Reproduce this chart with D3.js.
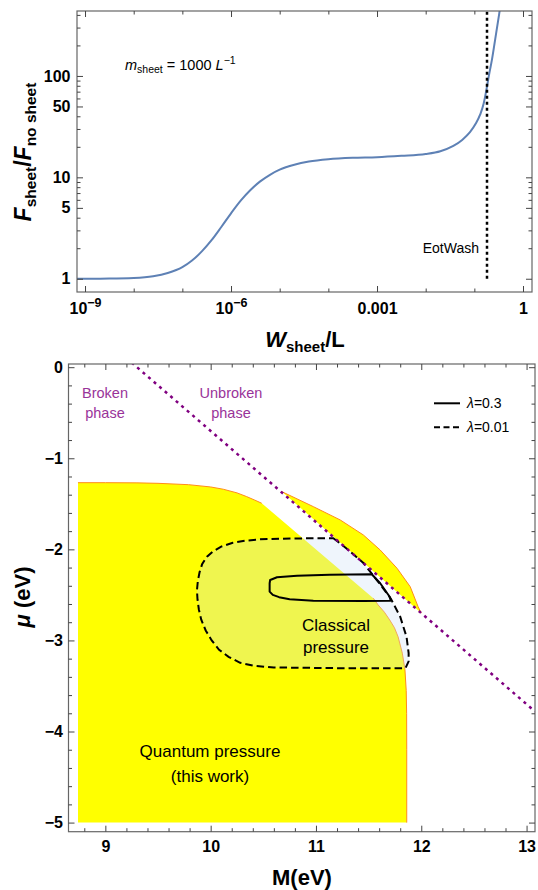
<!DOCTYPE html>
<html>
<head>
<meta charset="utf-8">
<script src="https://cdn.jsdelivr.net/npm/d3@7"></script>
<style>
  body { margin: 0; background: #fff; }
  svg { display: block; font-family: "Liberation Sans", Arial, sans-serif; }
  .tick text { font-weight: bold; font-size: 16px; fill: #000; }
</style>
</head>
<body>
<div id="chart"></div>
<script>
// ---- top panel: force ratio vs sheet width ----
const sheetW = [6.84e-10, 3.16e-9, 1e-8, 2.51e-8, 5.01e-8, 1e-7, 1.58e-7, 2.51e-7, 3.98e-7,
  6.31e-7, 1e-6, 1.58e-6, 2.51e-6, 3.98e-6, 6.31e-6, 1e-5, 2e-5, 3.98e-5, 1e-4, 3.16e-4,
  1e-3, 3.16e-3, 0.01, 0.02, 0.037, 0.0562, 0.0813, 0.107, 0.132, 0.155, 0.178, 0.2,
  0.229, 0.269, 0.324, 0.355];
const forceRatio = [1.0, 1.004, 1.018, 1.06, 1.14, 1.3, 1.51, 1.86, 2.4,
  3.24, 4.42, 5.89, 7.5, 9.12, 10.6, 11.9, 13.3, 14.3, 15.1, 15.6,
  15.8, 16.3, 17.0, 18.1, 20.4, 23.4, 27.9, 33.9, 41.7, 53.1, 74.1, 102,
  143, 232, 410, 550];
const eotWashW = 0.182;
const topXTicks = [1e-9, 1e-6, 1e-3, 1];
const topXLabels = [['10', '−9'], ['10', '−6'], ['0.001', ''], ['1', '']];
const topXMinor = [1e-8, 1e-7, 1e-5, 1e-4, 0.01, 0.1];
const topYTicks = [1, 5, 10, 50, 100];
const topYMinor = [2, 3, 4, 6, 7, 8, 9, 20, 30, 40, 60, 70, 80, 90, 200, 300, 400];

// ---- bottom panel: (M, mu) regions ----
const quantumMain = [[8.74, -5.0], [8.74, -1.268], [9.0, -1.268], [9.3, -1.27], [9.5, -1.275],
  [9.79, -1.29], [10.0, -1.315], [10.12, -1.34], [10.25, -1.38], [10.34, -1.42],
  [10.42, -1.46], [10.485, -1.494], [11.545, -2.537], [11.59, -2.61], [11.65, -2.69],
  [11.70, -2.775], [11.745, -2.86], [11.78, -2.96], [11.82, -3.14], [11.845, -3.32],
  [11.857, -3.55], [11.861, -3.8], [11.862, -4.2], [11.862, -5.0]];
const quantumSmall = [[10.675, -1.366], [10.975, -1.531], [11.23, -1.677], [11.45, -1.842],
  [11.61, -2.007], [11.77, -2.208], [11.895, -2.41], [11.97, -2.63], [12.0, -2.70]];
const lambda001 = [[11.165, -1.878], [11.29, -1.99], [11.45, -2.15], [11.58, -2.34], [11.71, -2.54],
  [11.80, -2.74], [11.86, -2.96], [11.88, -3.14], [11.88, -3.23], [11.85, -3.305],
  [11.25, -3.305], [10.60, -3.297], [10.42, -3.28], [10.28, -3.246], [10.17, -3.18],
  [10.08, -3.103], [10.01, -3.0], [9.953, -2.891], [9.91, -2.77], [9.888, -2.66],
  [9.875, -2.55], [9.87, -2.448], [9.878, -2.35], [9.895, -2.25], [9.92, -2.159],
  [9.965, -2.08], [10.02, -2.024], [10.1, -1.97], [10.21, -1.928], [10.33, -1.905],
  [10.47, -1.889], [10.8, -1.88]];
const lambda03 = [[10.565, -2.336], [10.63, -2.306], [10.82, -2.289], [11.13, -2.278], [11.53, -2.274],
  [11.61, -2.372], [11.70, -2.52], [11.71, -2.563], [11.45, -2.566], [10.975, -2.563],
  [10.75, -2.548], [10.65, -2.525], [10.59, -2.50], [10.56, -2.464], [10.56, -2.372]];
const phaseLine = [[9.25, 0.05], [13.08, -3.78]];
const botXTicks = [9, 10, 11, 12, 13];
const botYTicks = [0, -1, -2, -3, -4, -5];

const width = 538, height = 890;
const svg = d3.select('#chart').append('svg')
  .attr('width', width).attr('height', height);

function addAxis(make, scale, transform, vals, len, pad, fmt) {
  const a = make(scale).tickValues(vals)
    .tickSizeInner(-len).tickSizeOuter(0).tickPadding(pad)
    .tickFormat(fmt || (() => ''));
  const g = svg.append('g').attr('transform', transform).call(a);
  g.select('.domain').remove();
  g.selectAll('.tick line').attr('stroke', '#444');
  return g;
}

function frame(p) {
  svg.append('rect')
    .attr('x', p.l).attr('y', p.t)
    .attr('width', p.r - p.l).attr('height', p.b - p.t)
    .attr('fill', 'none').attr('stroke', '#666').attr('stroke-width', 1.2);
}

// ================= top panel =================
const tp = { l: 77, r: 532, t: 11, b: 292 };
const x1 = d3.scaleLog().domain([6.84e-10, 1.53]).range([tp.l, tp.r]);
const y1 = d3.scaleLog().domain([0.74, 437]).range([tp.b, tp.t]);

svg.append('clipPath').attr('id', 'clipTop')
  .append('rect').attr('x', tp.l).attr('y', tp.t)
  .attr('width', tp.r - tp.l).attr('height', tp.b - tp.t);

const curveData = sheetW.map((w, i) => ({ w: w, r: forceRatio[i] }));
svg.append('path')
  .datum(curveData)
  .attr('clip-path', 'url(#clipTop)')
  .attr('fill', 'none')
  .attr('stroke', '#5e81b5')
  .attr('stroke-width', 2)
  .attr('d', d3.line().x(d => x1(d.w)).y(d => y1(d.r)).curve(d3.curveMonotoneX));

svg.append('line')
  .attr('x1', x1(eotWashW)).attr('x2', x1(eotWashW))
  .attr('y1', y1(1)).attr('y2', tp.t)
  .attr('stroke', '#000').attr('stroke-width', 2.5)
  .attr('stroke-dasharray', '3,3');

svg.append('text')
  .attr('x', x1(eotWashW) - 8).attr('y', 253)
  .attr('text-anchor', 'end').attr('font-size', 14)
  .text('EotWash');

const mLabel = svg.append('text').attr('x', 125).attr('y', 70).attr('font-size', 14.5);
mLabel.append('tspan').attr('font-style', 'italic').text('m');
mLabel.append('tspan').attr('font-size', 10.5).attr('dy', 3).text('sheet');
mLabel.append('tspan').attr('dy', -3).text(' = 1000 ');
mLabel.append('tspan').attr('font-style', 'italic').text('L');
mLabel.append('tspan').attr('font-size', 10.5).attr('dy', -6).text('−1');

frame(tp);
const gx1 = addAxis(d3.axisBottom, x1, `translate(0,${tp.b})`, topXTicks, 6, 11, d => d);
gx1.selectAll('.tick text').each(function (d, i) {
  const t = d3.select(this).text('');
  t.append('tspan').text(topXLabels[i][0]);
  if (topXLabels[i][1]) {
    t.append('tspan').attr('font-size', 12.5).attr('dy', '-0.55em').text(topXLabels[i][1]);
  }
});
addAxis(d3.axisBottom, x1, `translate(0,${tp.b})`, topXMinor, 3.5, 0);
addAxis(d3.axisTop, x1, `translate(0,${tp.t})`, topXTicks, 6, 0);
addAxis(d3.axisTop, x1, `translate(0,${tp.t})`, topXMinor, 3.5, 0);
addAxis(d3.axisLeft, y1, `translate(${tp.l},0)`, topYTicks, 6, 6.5, d => d);
addAxis(d3.axisLeft, y1, `translate(${tp.l},0)`, topYMinor, 3.5, 0);
addAxis(d3.axisRight, y1, `translate(${tp.r},0)`, topYTicks, 6, 0);
addAxis(d3.axisRight, y1, `translate(${tp.r},0)`, topYMinor, 3.5, 0);

const yl1 = svg.append('text')
  .attr('transform', 'translate(31,152) rotate(-90)')
  .attr('text-anchor', 'middle').attr('font-weight', 'bold').attr('font-size', 23);
yl1.append('tspan').attr('font-style', 'italic').text('F');
yl1.append('tspan').attr('font-size', 15.5).attr('dy', 5).text('sheet');
yl1.append('tspan').attr('dy', -5).text('/');
yl1.append('tspan').attr('font-style', 'italic').text('F');
yl1.append('tspan').attr('font-size', 15.5).attr('dy', 5).text('no sheet');

const xl1 = svg.append('text')
  .attr('x', 305).attr('y', 347)
  .attr('text-anchor', 'middle').attr('font-weight', 'bold').attr('font-size', 22);
xl1.append('tspan').attr('font-style', 'italic').text('W');
xl1.append('tspan').attr('font-size', 15).attr('dy', 5).text('sheet');
xl1.append('tspan').attr('dy', -5).text('/L');

// ================= bottom panel =================
const bp = { l: 68.5, r: 535, t: 364, b: 831.7 };
const x2 = d3.scaleLinear().domain([8.65, 13.08]).range([bp.l, bp.r]);
const y2 = d3.scaleLinear().domain([-5.1, 0.035]).range([bp.b, bp.t]);

svg.append('clipPath').attr('id', 'clipBot')
  .append('rect').attr('x', bp.l).attr('y', bp.t)
  .attr('width', bp.r - bp.l).attr('height', bp.b - bp.t);

const lin = d3.line().x(d => x2(d[0])).y(d => y2(d[1]));
const plot = svg.append('g').attr('clip-path', 'url(#clipBot)');

// yellow regions
plot.append('path').attr('d', lin(quantumMain) + 'Z').attr('fill', '#ffff00');
plot.append('path').attr('d', lin(quantumSmall) + 'Z').attr('fill', '#ffff00');
// orange edges on the curved boundaries
plot.append('path').attr('d', lin(quantumMain.slice(1, 12)))
  .attr('fill', 'none').attr('stroke', '#ff8c1a').attr('stroke-width', 1);
plot.append('path').attr('d', lin(quantumMain.slice(12)))
  .attr('fill', 'none').attr('stroke', '#ff8c1a').attr('stroke-width', 1);
plot.append('path').attr('d', lin(quantumSmall))
  .attr('fill', 'none').attr('stroke', '#ff8c1a').attr('stroke-width', 1);

// classical pressure region (lambda = 0.01)
plot.append('path').attr('d', lin(lambda001) + 'Z')
  .attr('fill', 'rgb(205,225,245)').attr('fill-opacity', 0.32)
  .attr('stroke', '#000').attr('stroke-width', 2)
  .attr('stroke-dasharray', '7.5,4');
plot.append('path').attr('d', lin(lambda03) + 'Z')
  .attr('fill', 'none').attr('stroke', '#000').attr('stroke-width', 2)
  .attr('stroke-linejoin', 'round');

// phase boundary
plot.append('path').attr('d', lin(phaseLine))
  .attr('fill', 'none').attr('stroke', '#800080').attr('stroke-width', 2.5)
  .attr('stroke-dasharray', '3,4.3');

frame(bp);
const minorX = d3.range(44, 66).map(i => i / 5).filter(v => Math.abs(v - Math.round(v)) > 1e-6);
const minorY = d3.range(-25, 1).map(i => i / 5).filter(v => Math.abs(v - Math.round(v)) > 1e-6);
const intFmt = d3.format('d');
addAxis(d3.axisBottom, x2, `translate(0,${bp.b})`, botXTicks, 6, 9, intFmt);
addAxis(d3.axisBottom, x2, `translate(0,${bp.b})`, minorX, 3.5, 0);
addAxis(d3.axisTop, x2, `translate(0,${bp.t})`, botXTicks, 6, 0);
addAxis(d3.axisTop, x2, `translate(0,${bp.t})`, minorX, 3.5, 0);
addAxis(d3.axisLeft, y2, `translate(${bp.l},0)`, botYTicks, 6, 5.5, intFmt);
addAxis(d3.axisLeft, y2, `translate(${bp.l},0)`, minorY, 3.5, 0);
addAxis(d3.axisRight, y2, `translate(${bp.r},0)`, botYTicks, 6, 0);
addAxis(d3.axisRight, y2, `translate(${bp.r},0)`, minorY, 3.5, 0);

// labels inside the plot
function label(x, y, txt, size, color) {
  svg.append('text').attr('x', x).attr('y', y)
    .attr('text-anchor', 'middle').attr('font-size', size)
    .attr('fill', color || '#000').text(txt);
}
label(105, 397.5, 'Broken', 14.5, '#993399');
label(105, 417.5, 'phase', 14.5, '#993399');
label(231, 397.5, 'Unbroken', 14.5, '#993399');
label(231, 417.5, 'phase', 14.5, '#993399');
label(336, 630.5, 'Classical', 17);
label(336, 652.5, 'pressure', 17);
label(210, 757, 'Quantum pressure', 17);
label(210, 781.5, '(this work)', 17);

// legend
svg.append('line').attr('x1', 434).attr('x2', 460).attr('y1', 403.3).attr('y2', 403.3)
  .attr('stroke', '#000').attr('stroke-width', 2);
svg.append('line').attr('x1', 434).attr('x2', 460).attr('y1', 427.3).attr('y2', 427.3)
  .attr('stroke', '#000').attr('stroke-width', 2).attr('stroke-dasharray', '6,3.5');
[['0.3', 408.3], ['0.01', 432.3]].forEach(([v, y]) => {
  const t = svg.append('text').attr('x', 467).attr('y', y).attr('font-size', 14);
  t.append('tspan').attr('font-style', 'italic').text('λ');
  t.append('tspan').text('=' + v);
});

svg.append('text')
  .attr('x', 302).attr('y', 885)
  .attr('text-anchor', 'middle').attr('font-weight', 'bold').attr('font-size', 22)
  .text('M(eV)');

const yl2 = svg.append('text')
  .attr('transform', 'translate(30,597) rotate(-90)')
  .attr('text-anchor', 'middle').attr('font-weight', 'bold').attr('font-size', 22);
yl2.append('tspan').attr('font-style', 'italic').text('μ');
yl2.append('tspan').text(' (eV)');
</script>
</body>
</html>
